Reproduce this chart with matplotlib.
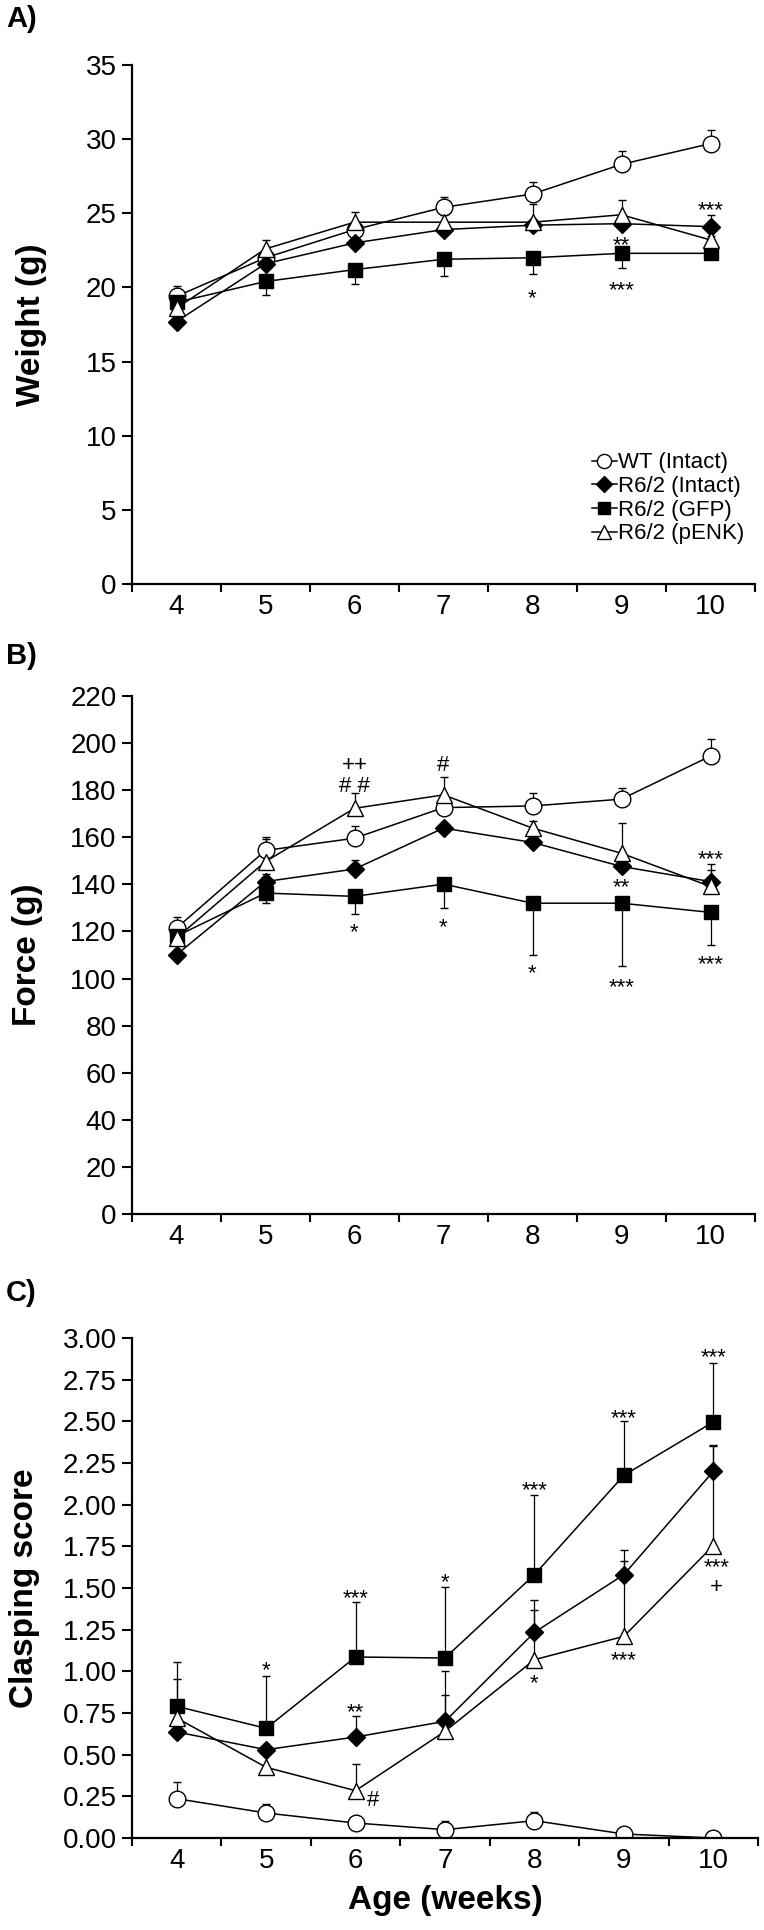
import matplotlib
matplotlib.use("Agg")
import matplotlib.pyplot as plt

plt.rcParams["font.family"] = ["Liberation Sans", "DejaVu Sans"]

weeks = [4, 5, 6, 7, 8, 9, 10]
labels = ["WT (Intact)", "R6/2 (Intact)", "R6/2 (GFP)", "R6/2 (pENK)"]

# A) body weight (g)
wt_w = [19.4, 22.0, 23.9, 25.4, 26.3, 28.3, 29.7]
wt_w_err = [0.7, 0.3, 0.5, 0.7, 0.8, 0.9, 0.9]
int_w = [17.7, 21.6, 23.0, 23.9, 24.2, 24.3, 24.1]
int_w_err = [0.2, 0.3, 0.3, 0.3, 0.3, 0.3, 0.8]
gfp_w = [19.0, 20.4, 21.2, 21.9, 22.0, 22.3, 22.3]
gfp_w_err = [0.3, 0.9, 1.0, 1.1, 1.1, 1.0, 0.3]
penk_w = [18.6, 22.6, 24.4, 24.4, 24.4, 24.9, 23.2]
penk_w_err = [0.3, 0.6, 0.7, 0.5, 1.2, 1.0, 0.3]

# B) grip force (g)
wt_f = [121.4, 154.4, 159.6, 172.6, 173.3, 176.2, 194.5]
wt_f_err = [4.6, 5.9, 5.0, 4.0, 5.4, 4.9, 7.4]
int_f = [110.1, 141.2, 146.5, 163.9, 157.8, 147.6, 141.2]
int_f_err = [2.0, 3.0, 4.0, 2.0, 2.0, 2.0, 5.0]
gfp_f = [118.0, 136.3, 134.9, 140.1, 132.0, 132.0, 128.1]
gfp_f_err = [3.0, 4.3, 7.5, 10.2, 21.9, 26.6, 13.7]
penk_f = [117.2, 149.7, 172.3, 178.0, 163.9, 153.2, 139.1]
penk_f_err = [3.0, 9.5, 6.4, 7.5, 3.0, 12.8, 9.6]

# C) clasping score
wt_c = [0.236, 0.15, 0.09, 0.05, 0.104, 0.024, 0.0]
wt_c_err = [0.1, 0.056, 0.0, 0.05, 0.05, 0.0, 0.0]
int_c = [0.636, 0.53, 0.606, 0.70, 1.234, 1.58, 2.2]
int_c_err = [0.318, 0.0, 0.124, 0.30, 0.136, 0.15, 0.16]
gfp_c = [0.79, 0.658, 1.086, 1.08, 1.58, 2.176, 2.496]
gfp_c_err = [0.264, 0.316, 0.33, 0.426, 0.48, 0.324, 0.354]
penk_c = [0.72, 0.424, 0.284, 0.64, 1.07, 1.21, 1.754]
penk_c_err = [0.0, 0.0, 0.16, 0.216, 0.356, 0.45, 0.6]

# significance marks: (week, y, text)
notes_w = [(8, 19.8, "*"), (9, 23.35, "**"), (9, 20.3, "***"), (10, 25.7, "***")]
notes_f = [(6, 191.5, "++"), (6, 182.5, "# #"), (7, 191.4, "#"), (6, 122.8, "*"),
           (7, 125, "*"), (8, 105.2, "*"), (9, 142, "**"), (9, 99.5, "***"),
           (10, 153.7, "***"), (10, 109.4, "***")]
notes_c = [(5, 1.05, "*"), (6, 1.48, "***"), (6, 0.80, "**"), (6.2, 0.24, "#"),
           (7, 1.58, "*"), (8, 2.13, "***"), (8, 0.97, "*"), (9, 2.56, "***"),
           (9, 1.11, "***"), (10, 2.926, "***"), (10.04, 1.67, "***"), (10.04, 1.52, "+")]

STYLE = [
    dict(marker="o", mfc="white", ms=12),
    dict(marker="D", mfc="black", ms=9),
    dict(marker="s", mfc="black", ms=9.5),
    dict(marker="^", mfc="white", ms=12),
]
NOTE_FS = 16

W, H = 764, 1930
fig = plt.figure(figsize=(W / 100, H / 100), dpi=100)


def px_axes(left, top, right, bottom):
    return fig.add_axes([left / W, 1 - bottom / H, (right - left) / W, (bottom - top) / H])


def panel(ax, series, ylim, yticks, yfmt, ylabel, notes, label_x):
    for (y, err, up), st in zip(series, STYLE):
        lo = [0 if up else e for e in err]
        hi = [e if up else 0 for e in err]
        ax.errorbar(weeks, y, yerr=[lo, hi], color="black", lw=1.1, elinewidth=0.9,
                    capsize=3, capthick=0.9, mec="black", mew=1.0, **st)
    for x, y, s in notes:
        # asterisks sit high in the glyph box, so shift the baseline down
        drop = 0.6 if set(s) == {"*"} else 0.36
        ax.annotate(s, (x, y), xytext=(0, -drop * NOTE_FS), textcoords="offset points",
                    ha="center", va="baseline", fontsize=NOTE_FS, zorder=5)
    ax.set_xlim(3.5, 10.5)
    ax.set_ylim(*ylim)
    ax.set_xticks([w + 0.5 for w in [3] + weeks])
    ax.set_xticklabels([])
    ax.set_xticks(weeks, minor=True)
    ax.set_xticklabels([str(w) for w in weeks], minor=True, fontsize=20)
    ax.tick_params(axis="x", which="minor", length=0, pad=7)
    ax.tick_params(axis="x", which="major", length=6, width=1.5, direction="out")
    ax.set_yticks(yticks)
    ax.set_yticklabels([yfmt.format(t) for t in yticks], fontsize=20)
    ax.tick_params(axis="y", length=7, width=1.5, pad=4)
    for side in ["top", "right"]:
        ax.spines[side].set_visible(False)
    for side in ["left", "bottom"]:
        ax.spines[side].set_linewidth(1.6)
    ax.set_ylabel(ylabel, fontsize=24, fontweight="bold", va="center")
    ax.yaxis.set_label_coords(label_x, 0.5)


axA = px_axes(132, 65, 755, 584)
panel(axA, [(wt_w, wt_w_err, True), (int_w, int_w_err, True),
            (gfp_w, gfp_w_err, False), (penk_w, penk_w_err, True)],
      (0, 35), list(range(0, 36, 5)), "{:d}", "Weight (g)", notes_w, -0.162)
leg_lines = [axA.plot([], [], color="black", lw=1.1, mec="black", **st)[0] for st in STYLE]
axA.legend(leg_lines, labels, loc="upper right", bbox_to_anchor=(1.0, 0.275),
           frameon=False, fontsize=16, handlelength=1.1, handletextpad=0.05,
           labelspacing=0.12, borderpad=0, markerscale=0.85)

axB = px_axes(132, 696, 755, 1214)
panel(axB, [(wt_f, wt_f_err, True), (int_f, int_f_err, True),
            (gfp_f, gfp_f_err, False), (penk_f, penk_f_err, True)],
      (0, 220), list(range(0, 221, 20)), "{:d}", "Force (g)", notes_f, -0.168)

axC = px_axes(132, 1338, 758, 1838)
panel(axC, [(wt_c, wt_c_err, True), (int_c, int_c_err, True),
            (gfp_c, gfp_c_err, True), (penk_c, penk_c_err, True)],
      (0, 3.0), [i * 0.25 for i in range(13)], "{:.2f}", "Clasping score", notes_c, -0.172)
axC.set_xlabel("Age (weeks)", fontsize=24, fontweight="bold", labelpad=8)

for txt, top in [("A)", 5), ("B)", 642), ("C)", 1279)]:
    fig.text(6 / W, 1 - top / H, txt, fontsize=21, fontweight="bold", va="top", ha="left")

fig.savefig("out.png", dpi=100)
